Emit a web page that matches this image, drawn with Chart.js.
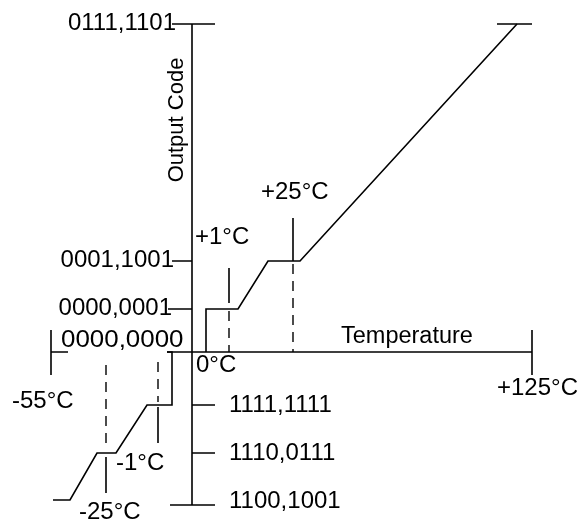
<!doctype html>
<html lang="en">
  <head>
    <meta charset="utf-8">
    <style>
      * {
        margin: 0;
        padding: 0;
      }
      body {
        background: white;
      }
      .chartBox {
        width: 580px;
        height: 521px;
      }
    </style>
  </head>
  <body>
    <div class="chartBox">
      <canvas id="myChart"></canvas>
    </div>

    <script src="https://cdn.jsdelivr.net/npm/chart.js/dist/chart.umd.min.js"></script>
    <script>
// temperature marks along the horizontal axis (schematic units, not to scale)
const tempMarks = ['-55°C', '-25°C', '-1°C', '0°C', '+1°C', '+25°C', '+125°C'];
const tempX = [-28.2, -17.2, -6.8, 0, 7.4, 20.2, 68];

// output codes along the vertical axis
const codeLabels = ['1100,1001', '1110,0111', '1111,1111', '0000,0000', '0000,0001', '0001,1001', '0111,1101'];
const codeY = [-30.6, -20.2, -10.6, 0, 8.6, 18.2, 65.6];

// transfer curve, positive side
const posCurveX = [2.8, 2.8, 9.2, 15.2, 21.6, 65];
const posCurveY = [0, 8.6, 8.6, 18.2, 18.2, 65.6];

// transfer curve, negative side
const negCurveX = [-5, -4, -4, -9, -15.2, -19, -24.4, -27.8];
const negCurveY = [0, 0, -10.6, -10.6, -20.2, -20.2, -29.6, -29.6];

const GAP = {x: null, y: null};
const seg = (x1, y1, x2, y2) => [{x: x1, y: y1}, {x: x2, y: y2}, GAP];
const curve = (xs, ys) => xs.map((x, i) => ({x, y: ys[i]})).concat([GAP]);

// axes and tick stubs
const axisPts = [
  ...seg(-5, 0, tempX[6], 0),                       // temperature axis
  ...seg(tempX[0], 0, -24.8, 0),                    // -55 stub
  ...seg(tempX[0], 4.4, tempX[0], -4.6),
  ...seg(tempX[6], 4.4, tempX[6], -4.6),
  ...seg(0, codeY[0], 0, codeY[6]),                 // code axis
  ...seg(-4, codeY[6], 4.6, codeY[6]),
  ...seg(-4, codeY[5], 0, codeY[5]),
  ...seg(-4.8, codeY[4], 0, codeY[4]),
  ...seg(0, codeY[2], 4.6, codeY[2]),
  ...seg(0, codeY[1], 4.6, codeY[1]),
  ...seg(-4.4, codeY[0], 4.6, codeY[0]),
  ...seg(61, codeY[6], tempX[6], codeY[6])          // full scale cap
];

// solid marker ticks above/below the steps
const markerPts = [
  ...seg(tempX[4], 16.8, tempX[4], 9.8),
  ...seg(tempX[5], 26.8, tempX[5], codeY[5]),
  ...seg(tempX[2], -11, tempX[2], -18.2),
  ...seg(tempX[1], -21, tempX[1], -28.2)
];

// dashed drop lines to the temperature axis
const dashPts = [
  ...seg(tempX[4], 8.2, tempX[4], 0),
  ...seg(tempX[5], 17.6, tempX[5], 0),
  ...seg(tempX[2], -2, tempX[2], -10),
  ...seg(tempX[1], -2.6, tempX[1], -19.6)
];

const lineStyle = {
  showLine: true,
  spanGaps: false,
  pointRadius: 0,
  borderColor: '#000',
  borderWidth: 1.6,
  tension: 0
};

const data = {
  datasets: [
    {label: 'axes', data: axisPts, ...lineStyle},
    {label: 'markers', data: markerPts, ...lineStyle},
    {label: 'curve+', data: curve(posCurveX, posCurveY), ...lineStyle},
    {label: 'curve-', data: curve(negCurveX, negCurveY), ...lineStyle},
    {label: 'drops', data: dashPts, ...lineStyle, borderWidth: 1.4, borderDash: [10, 7]}
  ]
};

// label anchors: [text, x, y, align, size, stretch]
const textItems = [
  [codeLabels[6], -3.2, 64.4, 'right', 24, 1],
  [codeLabels[5], -3.6, 17, 'right', 24, 1],
  [codeLabels[4], -4, 7.4, 'right', 24, 1],
  [codeLabels[3], -26.2, 1.0, 'left', 24, 1.08],
  [codeLabels[2], 7.4, -12, 'left', 24, 1],
  [codeLabels[1], 7.4, -21.6, 'left', 24, 1],
  [codeLabels[0], 7.4, -31.2, 'left', 24, 1],
  [tempMarks[3], 0.8, -4, 'left', 24, 1],
  [tempMarks[4], 0.6, 21.6, 'left', 24, 1],
  [tempMarks[5], 13.8, 30.6, 'left', 24, 1],
  [tempMarks[6], 61, -8.6, 'left', 24, 1],
  [tempMarks[0], -36, -11.2, 'left', 24, 1],
  [tempMarks[2], -15.2, -23.6, 'left', 24, 1],
  [tempMarks[1], -22.6, -33.4, 'left', 24, 1],
  ['Temperature', 29.8, 1.8, 'left', 23.5, 1]
];

const labels = {
  id: 'labels',
  afterDatasetsDraw(chart) {
    const {ctx, scales: {x, y}} = chart;
    ctx.save();
    ctx.fillStyle = '#000';
    ctx.textBaseline = 'alphabetic';
    textItems.forEach(([txt, tx, ty, align, size, stretch]) => {
      ctx.save();
      ctx.font = size + 'px "Liberation Sans", Arial, sans-serif';
      ctx.textAlign = align;
      ctx.translate(x.getPixelForValue(tx), y.getPixelForValue(ty));
      ctx.scale(stretch, 1);
      ctx.fillText(txt, 0, 0);
      ctx.restore();
    });

    // vertical axis title
    ctx.font = '22px "Liberation Sans", Arial, sans-serif';
    ctx.textAlign = 'center';
    ctx.translate(x.getPixelForValue(-1.8), y.getPixelForValue(46.4));
    ctx.rotate(-Math.PI / 2);
    ctx.fillText('Output Code', 0, 0);
    ctx.restore();
  }
};

const config = {
  type: 'scatter',
  data,
  options: {
    responsive: true,
    maintainAspectRatio: false,
    animation: false,
    layout: {padding: 0},
    scales: {
      x: {type: 'linear', display: false, min: -38.4, max: 77.6},
      y: {type: 'linear', display: false, min: -33.8, max: 70.4}
    },
    plugins: {
      legend: {display: false},
      tooltip: {enabled: false}
    }
  },
  plugins: [labels]
};

const myChart = new Chart(document.getElementById('myChart'), config);
    </script>
  </body>
</html>
